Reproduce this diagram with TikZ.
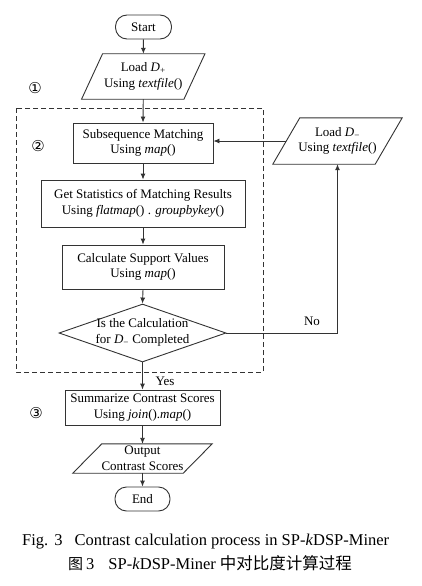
\documentclass[tikz,border=0pt]{standalone}
\usepackage{fontspec}
\setmainfont{Liberation Serif}
\newfontfamily\symfont{DejaVu Sans}
\newfontfamily\cjk{Noto Sans CJK SC}
\usetikzlibrary{arrows.meta,shapes.geometric}
\definecolor{ln}{HTML}{333333}
\newcommand{\paraframe}[2]{%
  \draw[ln,line width=0.9pt] ([xshift=#2/2]#1.north west) -- ([xshift=#2/2]#1.north east)
    -- ([xshift=-#2/2]#1.south east) -- ([xshift=-#2/2]#1.south west) -- cycle;}
\begin{document}
\begin{tikzpicture}[x=1pt,y=-1pt,
  every node/.style={font=\rmfamily\fontsize{13}{15.5}\selectfont},
  procbox/.style={draw=ln,line width=0.9pt,rectangle,align=center,inner sep=0pt},
  termbox/.style={draw=ln,line width=0.9pt,rectangle,rounded corners=11.5pt,align=center,inner sep=0pt,minimum width=56pt,minimum height=24pt},
  iobox/.style={rectangle,align=center,inner sep=0pt},
  flow/.style={draw=ln,line width=0.9pt,-{Latex[length=6pt,width=5pt]}},
  stagemark/.style={font=\symfont\fontsize{15}{15}\selectfont},
]
\useasboundingbox (0,0) rectangle (421,586);
\fill[white] (0,0) rectangle (421,586);

% dashed frame
\draw[ln,line width=0.8pt,dash pattern=on 5pt off 3pt] (16,108) rectangle (263,372);

\node[termbox] (start) at (143.5,27) {Start};
\node[iobox,minimum width=102pt,minimum height=45pt] (ldp) at (143.25,76.5) {Load \textit{D}\textsubscript{+}\\Using \textit{textfile}()};
\paraframe{ldp}{21pt}
\node[procbox,minimum width=140pt,minimum height=40pt] (sub) at (143,143) {Subsequence Matching\\Using \textit{map}()};
\node[procbox,minimum width=204pt,minimum height=47pt] (stat) at (143,203.5) {Get Statistics of Matching Results\\Using \textit{flatmap}() . \textit{groupbykey}()};
\node[procbox,minimum width=162pt,minimum height=44pt] (calc) at (143,267) {Calculate Support Values\\Using \textit{map}()};
\node[diamond,draw=ln,line width=0.9pt,minimum width=167pt,minimum height=58pt,inner sep=0pt] (dec) at (142.5,333) {};
\node[align=center,inner sep=0pt] (dectext) at (142.5,332.5) {Is the Calculation\\for \textit{D}\textsubscript{−} Completed};
\node[iobox,minimum width=102pt,minimum height=46pt] (ldm) at (337.5,141) {Load \textit{D}\textsubscript{−}\\Using \textit{textfile}()};
\paraframe{ldm}{27pt}
\node[procbox,minimum width=155pt,minimum height=35pt] (summ) at (142.5,407.5) {Summarize Contrast Scores\\Using \textit{join}().\textit{map}()};
\node[iobox,minimum width=110pt,minimum height=29pt] (outp) at (142.5,458.5) {Output\\Contrast Scores};
\paraframe{outp}{29pt}
\node[termbox,minimum width=55pt] (endn) at (142.5,499) {End};

% markers
\node[stagemark] (m1) at (35,88) {①};
\node[stagemark] (m2) at (38,146) {②};
\node[stagemark] (m3) at (36,413) {③};

% connectors
\draw[flow] (start) -- (ldp);
\draw[flow] (ldp.south) -- (sub.north);
\draw[flow] (sub) -- (stat);
\draw[flow] (stat) -- (calc);
\draw[flow] (calc.south) -- (dec.north);
\draw[flow] (ldm.west) -- (ldm.west -| sub.east);
\coordinate (nocorner) at (ldm.south |- dec.east);
\draw[flow] (dec.east) -- (nocorner) -- (ldm.south);
\draw[flow] (dec.south) -- (summ.north);
\draw[flow] (summ) -- (outp);
\draw[flow] (outp) -- (endn);

\node (nolab) at (312,321) {No};
\node (yeslab) at (165,381) {Yes};

% caption
\node[anchor=west,inner sep=0pt,font=\rmfamily\fontsize{16.5}{17}\selectfont] (cap1) at (22,542) {Fig.\hspace{6pt}3\hspace{12pt}Contrast calculation process in SP-\textit{k}DSP-Miner};
\node[anchor=west,inner sep=0pt,font=\rmfamily\fontsize{16.5}{17}\selectfont] (cap2) at (68,563) {{\cjk\fontsize{15}{16}\selectfont 图}\hspace{3pt}3\hspace{14pt}SP-\textit{k}DSP-Miner\hspace{4pt}{\cjk\fontsize{16.5}{16}\selectfont 中对比度计算过程}};
\end{tikzpicture}
\end{document}
